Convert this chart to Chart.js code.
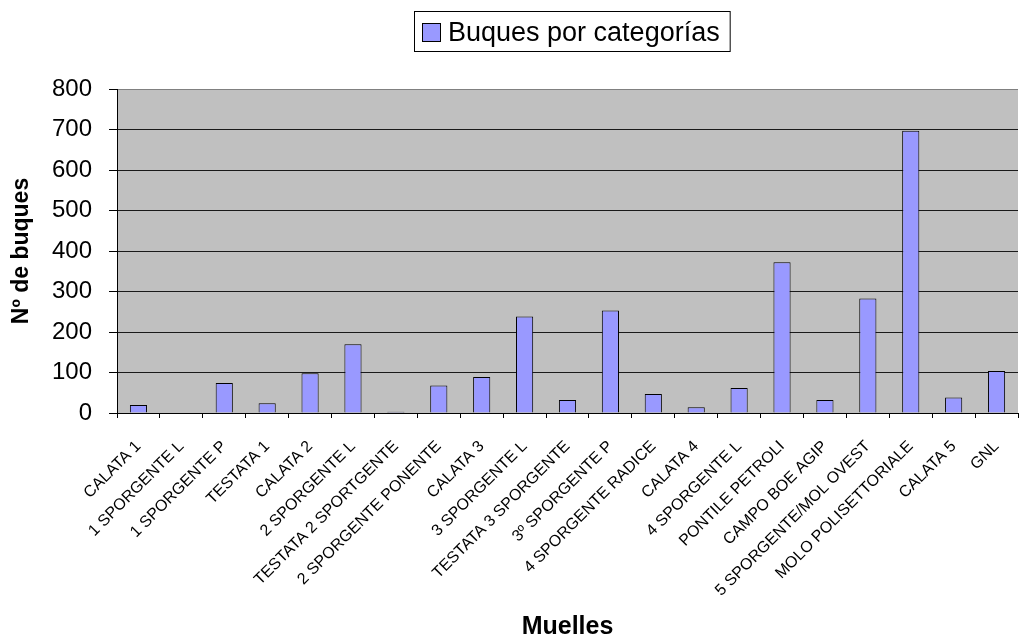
<!DOCTYPE html>
<html>
<head>
<meta charset="utf-8">
<title>Buques por categorías</title>
<script src="https://cdn.jsdelivr.net/npm/chart.js@4/dist/chart.umd.min.js"></script>
<style>
  html, body { margin: 0; padding: 0; background: #ffffff; }
  #wrap { width: 1023px; height: 642px; }
</style>
</head>
<body>
<div id="wrap"><canvas id="chart" width="1023" height="642"></canvas></div>
<script>
var muelles = [
  "CALATA 1", "1 SPORGENTE L", "1 SPORGENTE P", "TESTATA 1", "CALATA 2",
  "2 SPORGENTE L", "TESTATA 2 SPORTGENTE", "2 SPORGENTE PONENTE", "CALATA 3",
  "3 SPORGENTE L", "TESTATA 3 SPORGENTE", "3º SPORGENTE P", "4 SPORGENTE RADICE",
  "CALATA 4", "4 SPORGENTE L", "PONTILE PETROLI", "CAMPO BOE AGIP",
  "5 SPORGENTE/MOL OVEST", "MOLO POLISETTORIALE", "CALATA 5", "GNL"
];
var buques = [20, 0, 74, 24, 98, 170, 3, 68, 89, 238, 32, 253, 47, 14, 62, 372, 32, 283, 697, 38, 104];
var serieLabel = "Buques por categorías";
var yMin = 0, yMax = 800, yStep = 100;

var barFill = "#9999ff";
var font = "'Liberation Sans', Arial, Helvetica, sans-serif";

// grey plot background
var plotBackground = {
  id: "plotBackground",
  beforeDraw: function(chart) {
    var a = chart.chartArea, ctx = chart.ctx;
    ctx.save();
    ctx.fillStyle = "#c0c0c0";
    ctx.fillRect(a.left, a.top, a.right - a.left, a.bottom - a.top);
    ctx.restore();
  }
};

// boxed legend above the plot
var boxLegend = {
  id: "boxLegend",
  afterDraw: function(chart) {
    var ctx = chart.ctx;
    var ds = chart.data.datasets[0];
    ctx.save();
    ctx.font = "27px " + font;
    var tw = ctx.measureText(ds.label).width;
    var sw = 18, gap = 8, pad = 8;
    var w = pad + sw + gap + tw + 10;
    var x = 414, y = 11, h = 40;
    ctx.fillStyle = "#ffffff";
    ctx.fillRect(x, y, w, h);
    ctx.strokeStyle = "#000000";
    ctx.lineWidth = 1;
    ctx.strokeRect(x + 0.5, y + 0.5, w, h);
    ctx.fillStyle = ds.backgroundColor;
    ctx.fillRect(x + pad, y + 12, sw, sw);
    ctx.strokeRect(x + pad + 0.5, y + 12.5, sw, sw);
    ctx.fillStyle = "#000000";
    ctx.textBaseline = "alphabetic";
    ctx.fillText(ds.label, x + pad + sw + gap, y + 30);
    ctx.restore();
  }
};

var ctx = document.getElementById("chart").getContext("2d");
var chart = new Chart(ctx, {
  type: "bar",
  data: {
    labels: muelles,
    datasets: [{
      label: serieLabel,
      data: buques,
      backgroundColor: barFill,
      borderColor: "#000000",
      borderWidth: 1,
      categoryPercentage: 0.4,
      barPercentage: 1
    }]
  },
  options: {
    responsive: false,
    animation: false,
    layout: { padding: { top: 89, right: 5, left: 0, bottom: 0 } },
    plugins: {
      legend: { display: false },
      tooltip: { enabled: false }
    },
    scales: {
      x: {
        afterFit: function(scale) {
          scale.height = 229;
          // rotated labels hang to the left, no extra room needed on the sides
          scale.paddingLeft = 0;
          scale.paddingRight = 0;
        },
        grid: {
          display: true,
          drawOnChartArea: false,
          offset: true,
          tickLength: 5,
          color: "#000000"
        },
        border: { display: true, color: "#000000", width: 1 },
        ticks: {
          autoSkip: false,
          maxRotation: 45,
          minRotation: 45,
          padding: 19,
          color: "#000000",
          font: { family: font, size: 16 }
        },
        title: {
          display: true,
          text: "Muelles",
          color: "#000000",
          padding: { top: 0, bottom: 0 },
          font: { family: font, size: 25, weight: "bold" }
        }
      },
      y: {
        min: yMin,
        max: yMax,
        afterFit: function(scale) { scale.width = 117; },
        ticks: {
          stepSize: yStep,
          padding: 17,
          color: "#000000",
          font: { family: font, size: 24 }
        },
        grid: {
          color: function(c) { return c.tick && c.tick.value === yMax ? "#808080" : "#1a1a1a"; },
          tickColor: "#000000",
          tickLength: 8,
          lineWidth: 1
        },
        border: { display: true, color: "#000000", width: 1 },
        title: {
          display: true,
          text: "Nº de buques",
          color: "#000000",
          padding: { top: 8, bottom: 0 },
          font: { family: font, size: 23, weight: "bold" }
        }
      }
    }
  },
  plugins: [plotBackground, boxLegend]
});
</script>
</body>
</html>
